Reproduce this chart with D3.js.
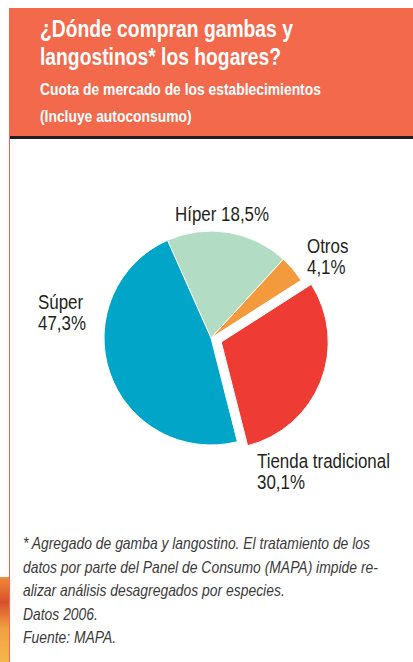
<!DOCTYPE html>
<html>
<head>
<meta charset="utf-8">
<script src="https://cdn.jsdelivr.net/npm/d3@7"></script>
<style>
  html, body { margin: 0; padding: 0; background: #fff; }
  svg { display: block; }
  text { font-family: "Liberation Sans", Arial, sans-serif; }
</style>
</head>
<body>
<div id="chart"></div>
<script>
// Data
const categories = ['Híper', 'Otros', 'Tienda tradicional', 'Súper'];
const shares = [18.5, 4.1, 30.1, 47.3];
const labelLines = [['Híper 18,5%'], ['Otros', '4,1%'], ['Tienda tradicional', '30,1%'], ['Súper', '47,3%']];
const colors = ['#b3dcc4', '#f39a3c', '#ee3b33', '#00a5c8'];
const exploded = ['Tienda tradicional'];

const titleLines = ['¿Dónde compran gambas y', 'langostinos* los hogares?'];
const subtitleLines = ['Cuota de mercado de los establecimientos', '(Incluye autoconsumo)'];
const notes = [
    '* Agregado de gamba y langostino. El tratamiento de los',
    'datos por parte del Panel de Consumo (MAPA) impide re-',
    'alizar análisis desagregados por especies.',
    'Datos 2006.',
    'Fuente: MAPA.'
];

const width = 413, height = 662;

const svg = d3.select('#chart')
    .append('svg')
    .attr('width', width)
    .attr('height', height);

// squeeze a group of texts horizontally (condensed look), anchored at each text's x
function condense(selection, refWidth) {
    const nodes = selection.nodes();
    const measured = nodes[0].getComputedTextLength();
    const k = refWidth / measured;
    nodes.forEach(n => {
        const x = +n.getAttribute('x');
        n.setAttribute('transform', `translate(${x},0) scale(${k},1) translate(${-x},0)`);
    });
}

// Bottom-left decoration
const defs = svg.append('defs');
const grad = defs.append('linearGradient')
    .attr('id', 'deco')
    .attr('x1', 0).attr('y1', 0).attr('x2', 0).attr('y2', 1);
grad.append('stop').attr('offset', '0%').attr('stop-color', '#f08a3a');
grad.append('stop').attr('offset', '30%').attr('stop-color', '#d8502a');
grad.append('stop').attr('offset', '60%').attr('stop-color', '#f0a040');
grad.append('stop').attr('offset', '100%').attr('stop-color', '#f6b84a');
svg.append('rect')
    .attr('x', 0).attr('y', 577)
    .attr('width', 9).attr('height', height - 577)
    .attr('fill', 'url(#deco)');

// Header block
svg.append('rect')
    .attr('x', 9).attr('y', 8)
    .attr('width', width - 9).attr('height', 128)
    .attr('fill', '#f2694b');
svg.append('rect')
    .attr('x', 10).attr('y', 136)
    .attr('width', width - 10).attr('height', 3)
    .attr('fill', '#231f20');
svg.append('rect')
    .attr('x', 9).attr('y', 136)
    .attr('width', 1).attr('height', height - 136)
    .attr('fill', '#f2695b');

const title = svg.append('g').selectAll('text')
    .data(titleLines)
    .enter()
    .append('text')
    .attr('x', 40)
    .attr('y', (d, i) => 37.5 + i * 28)
    .attr('fill', '#fff')
    .attr('font-size', 24)
    .attr('font-weight', 'bold')
    .text(d => d);
condense(title, 253);

const subtitle = svg.append('g').selectAll('text')
    .data(subtitleLines)
    .enter()
    .append('text')
    .attr('x', 40)
    .attr('y', (d, i) => 95 + i * 27)
    .attr('fill', '#fff')
    .attr('font-size', 17)
    .attr('font-weight', 'bold')
    .text(d => d);
condense(subtitle, 281);

// Pie
const cx = 211, cy = 338, radius = 107;
const startAngle = -24 * Math.PI / 180;

const data = categories.map((c, i) => ({name: c, value: shares[i], color: colors[i], lines: labelLines[i]}));

const pie = d3.pie()
    .sort(null)
    .value(d => d.value)
    .startAngle(startAngle)
    .endAngle(startAngle + 2 * Math.PI);
const arc = d3.arc().innerRadius(0).outerRadius(radius);

const g = svg.append('g')
    .attr('transform', `translate(${cx},${cy})`);

g.selectAll('path')
    .data(pie(data))
    .enter()
    .append('path')
    .attr('d', arc)
    .attr('fill', d => d.data.color)
    .attr('stroke', '#fff')
    .attr('stroke-width', 1)
    .attr('transform', d => {
        if (!exploded.includes(d.data.name)) return null;
        const mid = (d.startAngle + d.endAngle) / 2;
        const off = 11;
        return `translate(${Math.sin(mid) * off},${-Math.cos(mid) * off})`;
    });

// Labels
const labelPos = {
    'Híper': [175, 221],
    'Otros': [307, 253],
    'Tienda tradicional': [257, 468],
    'Súper': [38, 309]
};

const labels = svg.append('g');
data.forEach(d => {
    const [lx, ly] = labelPos[d.name];
    labels.append('text')
        .attr('class', 'pie-label')
        .attr('x', lx)
        .attr('y', ly)
        .attr('fill', '#231f20')
        .attr('font-size', 19.5)
        .selectAll('tspan')
        .data(d.lines)
        .enter()
        .append('tspan')
        .attr('x', lx)
        .attr('dy', (t, i) => i === 0 ? 0 : 21)
        .text(t => t);
});
// reference width: "Tienda tradicional"
const labelSel = labels.selectAll('text.pie-label');
const tiendaNode = labelSel.nodes()[2].querySelector('tspan');
const kLabel = 133 / tiendaNode.getComputedTextLength();
labelSel.each(function() {
    const x = +this.getAttribute('x');
    this.setAttribute('transform', `translate(${x},0) scale(${kLabel},1) translate(${-x},0)`);
});

// Footnote
const foot = svg.append('g').selectAll('text')
    .data(notes)
    .enter()
    .append('text')
    .attr('x', 23)
    .attr('y', (d, i) => 549.5 + i * 23.5)
    .attr('fill', '#3a3a3a')
    .attr('font-size', 16.5)
    .attr('font-style', 'italic')
    .text(d => d);
condense(foot, 347);
</script>
</body>
</html>
